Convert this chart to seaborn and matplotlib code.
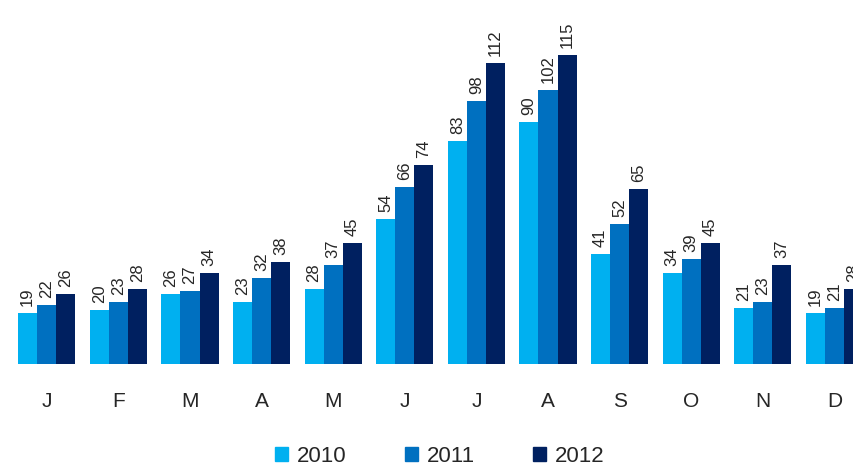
import pandas as pd
import matplotlib.pyplot as plt
import seaborn as sns

# Monthly values per year
months = ['Jan', 'Feb', 'Mar', 'Apr', 'May', 'Jun', 'Jul', 'Aug', 'Sep', 'Oct', 'Nov', 'Dec']
tick_labels = ['J', 'F', 'M', 'A', 'M', 'J', 'J', 'A', 'S', 'O', 'N', 'D']
years = ['2010', '2011', '2012']
v2010 = [19, 20, 26, 23, 28, 54, 83, 90, 41, 34, 21, 19]
v2011 = [22, 23, 27, 32, 37, 66, 98, 102, 52, 39, 23, 21]
v2012 = [26, 28, 34, 38, 45, 74, 112, 115, 65, 45, 37, 28]
colors = ['#00B0F0', '#0070C0', '#002060']

df = pd.DataFrame({
    'month': months * 3,
    'value': v2010 + v2011 + v2012,
    'year': [y for y in years for _ in months],
})

sns.set_style('white')
plt.rcParams['font.family'] = ['Liberation Sans', 'DejaVu Sans']

fig = plt.figure(figsize=(8.54, 4.68), dpi=100)
ax = fig.add_axes([0.0129, 0.2222, 1.006, 0.718])

sns.barplot(data=df, x='month', y='value', hue='year', palette=colors,
            saturation=1, width=0.8, ax=ax, legend=False,
            edgecolor='none', linewidth=0)

for cont in ax.containers:
    ax.bar_label(cont, rotation=90, padding=5, fontsize=12)

ax.set_ylim(0, 125)
ax.set_xlim(-0.5, 11.5)
ax.set_xticks(range(len(tick_labels)))
ax.set_xticklabels(tick_labels, fontsize=15)
ax.tick_params(axis='x', length=0, pad=20)
ax.set_yticks([])
ax.set_xlabel('')
ax.set_ylabel('')
for s in ax.spines.values():
    s.set_visible(False)

handles = [plt.Rectangle((0, 0), 1, 1, color=c) for c in colors]
fig.legend(handles, years, loc='lower center', ncol=3, frameon=False,
           fontsize=16, bbox_to_anchor=(0.515, -0.04), handlelength=0.6,
           handleheight=0.6, handletextpad=0.4, columnspacing=2.6)

fig.savefig('out.png', dpi=100)
